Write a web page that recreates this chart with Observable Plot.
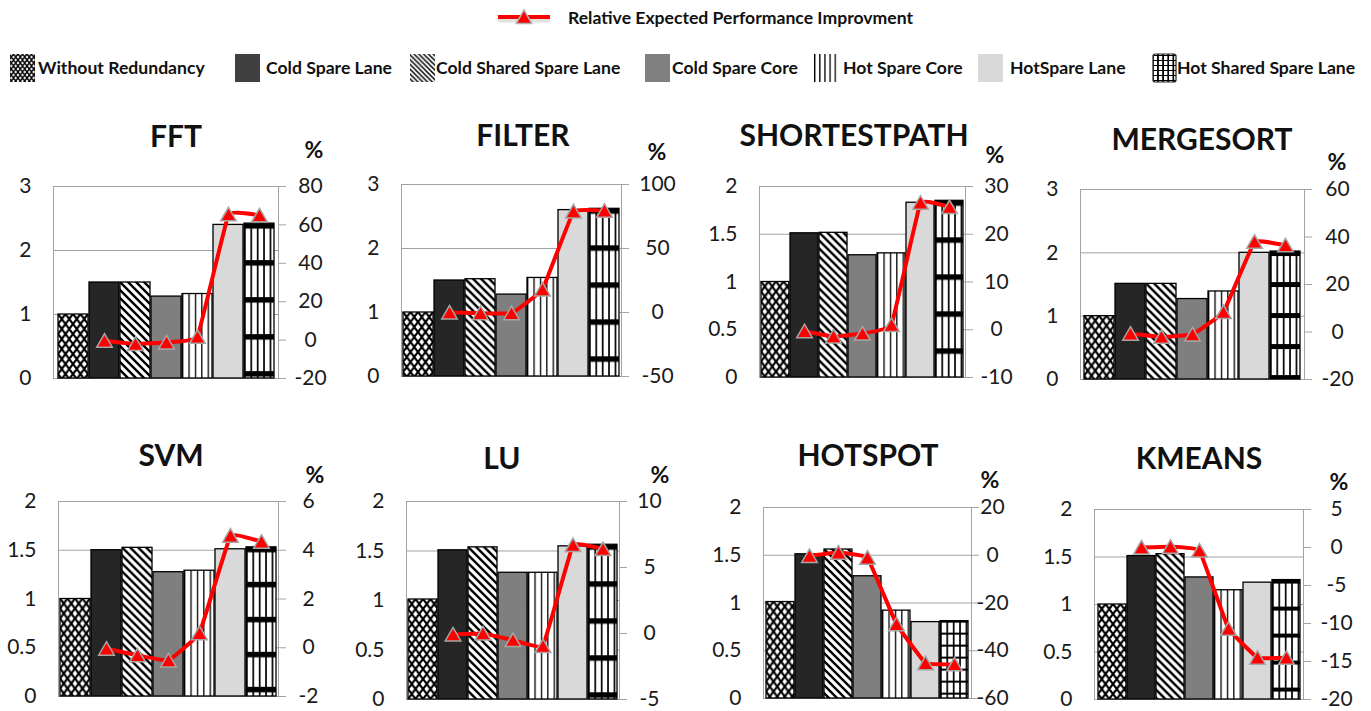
<!DOCTYPE html>
<html><head><meta charset="utf-8">
<script src="https://cdn.jsdelivr.net/npm/d3@7"></script>
<script src="https://cdn.jsdelivr.net/npm/@observablehq/plot@0.6"></script>
<style>
body{margin:0;background:#fff;}
#root{position:relative;width:1371px;height:711px;overflow:hidden;font-family:Lato,"Open Sans",sans-serif;}
#root svg{position:absolute;}
</style></head><body><div id="root"></div>
<script>
// ---------- data ----------
const categories = ["Without Redundancy","Cold Spare Lane","Cold Shared Spare Lane","Cold Spare Core","Hot Spare Core","HotSpare Lane","Hot Shared Spare Lane"];
const benchmarks = ["FFT","FILTER","SHORTESTPATH","MERGESORT","SVM","LU","HOTSPOT","KMEANS"];
const lineLabel = "Relative Expected Performance Improvment";
const unitLabel = "%";

const fftBars = [1.0, 1.5, 1.5, 1.28, 1.32, 2.40, 2.42];
const fftGain = [null, -0.3, -2.0, -1.2, 1.7, 65.5, 65.0];
const fftLeftTicks = [0, 1, 2, 3];
const fftRightTicks = [-20, 0, 20, 40, 60, 80];

const filterBars = [1.0, 1.5, 1.52, 1.28, 1.54, 2.60, 2.62];
const filterGain = [null, 0, -0.5, -0.5, 18, 79, 79.5];
const filterLeftTicks = [0, 1, 2, 3];
const filterRightTicks = [-50, 0, 50, 100];

const shortestBars = [1.0, 1.51, 1.515, 1.28, 1.30, 1.83, 1.85];
const shortestGain = [null, -0.3, -1.4, -0.8, 1.0, 26.6, 25.7];
const shortestLeftTicks = [0, 0.5, 1, 1.5, 2];
const shortestRightTicks = [-10, 0, 10, 20, 30];

const mergeBars = [1.0, 1.51, 1.51, 1.27, 1.39, 2.0, 2.02];
const mergeGain = [null, -0.7, -2.0, -1.0, 8.4, 38, 36.5];
const mergeLeftTicks = [0, 1, 2, 3];
const mergeRightTicks = [-20, 0, 20, 40, 60];

const svmBars = [1.0, 1.5, 1.525, 1.275, 1.29, 1.51, 1.53];
const svmGain = [null, -0.04, -0.31, -0.52, 0.6, 4.6, 4.35];
const svmLeftTicks = [0, 0.5, 1, 1.5, 2];
const svmRightTicks = [-2, 0, 2, 4, 6];

const luBars = [1.01, 1.507, 1.537, 1.28, 1.28, 1.547, 1.563];
const luGain = [null, -0.07, 0, -0.5, -0.95, 6.7, 6.4];
const luLeftTicks = [0, 0.5, 1, 1.5, 2];
const luRightTicks = [-5, 0, 5, 10];

const hotspotBars = [1.01, 1.51, 1.56, 1.28, 0.92, 0.80, 0.81];
const hotspotGain = [null, -0.3, 1.1, -1.0, -28.9, -45.2, -45.7];
const hotspotLeftTicks = [0, 0.5, 1, 1.5, 2];
const hotspotRightTicks = [-60, -40, -20, 0, 20];

const kmeansBars = [1.0, 1.51, 1.53, 1.285, 1.15, 1.23, 1.257];
const kmeansGain = [null, 0, 0.1, -0.4, -10.7, -14.5, -14.5];
const kmeansLeftTicks = [0, 0.5, 1, 1.5, 2];
const kmeansRightTicks = [-20, -15, -10, -5, 0, 5];

// ---------- layout / style ----------
const panels = [
  {name: benchmarks[0], bars: fftBars, gain: fftGain, lt: fftLeftTicks, rt: fftRightTicks, frame: [53, 278, 186, 378], title: [176, 147], pct: [314, 158], rOff: 32, band: [37, 5.5]},
  {name: benchmarks[1], bars: filterBars, gain: filterGain, lt: filterLeftTicks, rt: filterRightTicks, frame: [401, 621, 184, 376], title: [523, 146], pct: [657, 160], rOff: 36, band: [37, 5.5]},
  {name: benchmarks[2], bars: shortestBars, gain: shortestGain, lt: shortestLeftTicks, rt: shortestRightTicks, frame: [759, 965, 186, 377], title: [854, 146], pct: [995, 163], rOff: 31, band: [37, 5.5]},
  {name: benchmarks[3], bars: mergeBars, gain: mergeGain, lt: mergeLeftTicks, rt: mergeRightTicks, frame: [1080, 1304, 189, 379], title: [1202, 150], pct: [1337, 170], rOff: 33, band: [31, 5]},
  {name: benchmarks[4], bars: svmBars, gain: svmGain, lt: svmLeftTicks, rt: svmRightTicks, frame: [58, 278, 501, 696], title: [171, 466], pct: [315, 483], rOff: 30, band: [35, 5.5]},
  {name: benchmarks[5], bars: luBars, gain: luGain, lt: luLeftTicks, rt: luRightTicks, frame: [406, 619, 501, 699], title: [502, 469], pct: [660, 483], rOff: 30, band: [37, 5.5]},
  {name: benchmarks[6], bars: hotspotBars, gain: hotspotGain, lt: hotspotLeftTicks, rt: hotspotRightTicks, frame: [763, 971, 507, 698], title: [868, 466], pct: [990, 488], rOff: 21, band: [12, 2]},
  {name: benchmarks[7], bars: kmeansBars, gain: kmeansGain, lt: kmeansLeftTicks, rt: kmeansRightTicks, frame: [1094, 1303, 509, 699], title: [1199, 469], pct: [1339, 490], rOff: 33, band: [27, 4]}
];

const FONT = 'Lato, "Open Sans", sans-serif';
const GRID = "#a3a3a3";
const root = d3.select("#root");

function addPatterns(defs, id, band, small) {
  const s = small ? 0.6 : 1;
  function pat(pid, w, h) {
    const p = defs.append("pattern").attr("id", pid).attr("patternUnits", "userSpaceOnUse")
      .attr("width", w).attr("height", h);
    p.append("rect").attr("width", w).attr("height", h).attr("fill", "#fff");
    return p;
  }
  let w = 7.5 * s, h = 10 * s;
  pat(id + "x", w, h).append("path").attr("d", `M0,0L${w},${h}M${w},0L0,${h}`)
    .attr("stroke", "#000").attr("stroke-width", 1.9 * s + 0.3).attr("fill", "none");
  w = 8 * s;
  pat(id + "d", w, w).append("path")
    .attr("d", `M${-w/4},${-w/4}L${w*1.25},${w*1.25}M${-w/4},${w*0.75}L${w/4},${w*1.25}M${w*0.75},${-w/4}L${w*1.25},${w/4}`)
    .attr("stroke", "#000").attr("stroke-width", 2.2 * s + 0.2).attr("fill", "none");
  w = 6.4 * (small ? 0.8 : 1);
  pat(id + "v", w, 10).append("rect").attr("x", 0).attr("width", 1.3).attr("height", 10).attr("fill", "#000");
  const p = pat(id + "g", w, band[0]);
  p.append("rect").attr("x", 0).attr("width", 1.7).attr("height", band[0]).attr("fill", "#000");
  p.append("rect").attr("y", 0).attr("width", w).attr("height", band[1]).attr("fill", "#000");
}

const fmt = v => String(Math.round(v * 1000) / 1000);

// ---------- overlay: legend, titles, units ----------
const overlay = root.append("svg").attr("width", 1371).attr("height", 711)
  .style("left", "0px").style("top", "0px").attr("font-family", FONT);
const odefs = overlay.append("defs");
addPatterns(odefs, "lg", [5, 1], true);

overlay.append("line").attr("x1", 498).attr("x2", 550).attr("y1", 19).attr("y2", 19)
  .attr("stroke", "#bdbdbd").attr("stroke-width", 7).attr("opacity", 0.45);
overlay.append("line").attr("x1", 498).attr("x2", 550).attr("y1", 17).attr("y2", 17)
  .attr("stroke", "#ff0000").attr("stroke-width", 4);
overlay.append("path").attr("transform", "translate(524,19)")
  .attr("d", d3.symbol(d3.symbolTriangle, 5.8 * 5.8 * Math.PI)())
  .attr("fill", "#ff0000").attr("stroke", "#b0b0b0").attr("stroke-width", 1.5);
overlay.append("text").attr("x", 568).attr("y", 23.5).attr("font-weight", "bold")
  .attr("font-size", 17.6).attr("fill", "#111").text(lineLabel);

const legendFills = ["url(#lgx)", "#404040", "url(#lgd)", "#808080", "url(#lgv)", "#d9d9d9", "url(#lgg)"];
const iconX = [10, 235, 410, 645, 812, 978, 1153];
const textX = [38, 266, 436, 672, 843, 1010, 1177];
categories.forEach((c, i) => {
  const r = overlay.append("rect").attr("x", iconX[i]).attr("y", 54).attr("width", i === 6 ? 23 : 25)
    .attr("height", 28).attr("fill", legendFills[i]);
  if (i === 6) r.attr("stroke", "#222").attr("stroke-width", 1.2).attr("rx", 2);
  overlay.append("text").attr("x", textX[i]).attr("y", 74).attr("font-weight", "bold")
    .attr("font-size", 17.6).attr("fill", "#111").text(c);
});

panels.forEach(p => {
  overlay.append("text").attr("x", p.title[0]).attr("y", p.title[1]).attr("text-anchor", "middle")
    .attr("font-weight", "bold").attr("font-size", 30).attr("fill", "#111").text(p.name);
  overlay.append("text").attr("x", p.pct[0]).attr("y", p.pct[1]).attr("text-anchor", "middle")
    .attr("font-weight", "bold").attr("font-size", 23).attr("fill", "#111").text(unitLabel);
});

// ---------- panels ----------
panels.forEach((cfg, k) => {
  const [fl, fr, ft, fb] = cfg.frame;
  const mL = 60, mR = 60, mT = 10, mB = 10;
  const W = fr - fl + mL + mR, H = fb - ft + mT + mB;
  const lMax = d3.max(cfg.lt), rMin = d3.min(cfg.rt), rMax = d3.max(cfg.rt);
  const toLeft = d3.scaleLinear([rMin, rMax], [0, lMax]);
  const barData = categories.map((c, i) => ({c, v: cfg.bars[i]}));
  const lineData = categories.map((c, i) => ({c, g: cfg.gain[i]})).filter(d => d.g != null);
  const rtMapped = cfg.rt.map(t => toLeft(t));
  const id = "p" + k;
  const fills = [`url(#${id}x)`, "#262626", `url(#${id}d)`, "#7f7f7f", `url(#${id}v)`, "#d9d9d9", `url(#${id}g)`];

  const svg = Plot.plot({
    width: W, height: H,
    marginLeft: mL, marginRight: mR, marginTop: mT, marginBottom: mB,
    style: {background: "transparent", overflow: "visible", fontFamily: FONT, fontSize: "21px", color: "#1a1a1a"},
    x: {type: "band", domain: categories, padding: 0.04, axis: null},
    y: {domain: [0, lMax], axis: null},
    color: {type: "ordinal", domain: categories, range: fills},
    marks: [
      Plot.ruleY(cfg.lt, {stroke: GRID, strokeWidth: 1}),
      Plot.frame({stroke: GRID}),
      Plot.axisY(cfg.lt, {anchor: "left", tickSize: 0, tickPadding: 22, label: null, tickFormat: fmt, fontSize: 21}),
      Plot.axisY(rtMapped, {anchor: "right", tickSize: 7, stroke: GRID, tickFormat: () => "", label: null}),
      Plot.text(rtMapped, {y: d => d, frameAnchor: "right", dx: cfg.rOff, textAnchor: "middle",
        text: v => fmt(toLeft.invert(v)), fontSize: 21, fill: "#1a1a1a"}),
      Plot.barY(barData, {x: "c", y: "v", fill: "c", stroke: "#000", strokeWidth: 1.3}),
      Plot.line(lineData, {x: "c", y: d => toLeft(d.g), stroke: "#ff0000", strokeWidth: 4,
        curve: "cardinal", tension: 0.8}),
      Plot.dot(lineData, {x: "c", y: d => toLeft(d.g), symbol: "triangle", r: 5.8, fill: "#ff0000",
        stroke: "#a6a6a6", strokeWidth: 1.5, dy: 2})
    ]
  });
  const defs = d3.select(svg).insert("defs", ":first-child");
  addPatterns(defs, id, cfg.band, false);
  // anchor each bar's pattern tile at the bar's own corner (as the original's fills are)
  const rects = d3.select(svg).selectAll("g[aria-label='bar'] rect").nodes();
  [["x", 0], ["d", 2], ["v", 4], ["g", 6]].forEach(([suf, i]) => {
    const r = rects[i];
    if (!r) return;
    defs.select(`#${id}${suf}`).attr("x", r.getAttribute("x")).attr("y", r.getAttribute("y"));
  });
  svg.style.left = (fl - mL) + "px";
  svg.style.top = (ft - mT) + "px";
  root.node().appendChild(svg);
});
</script></body></html>
